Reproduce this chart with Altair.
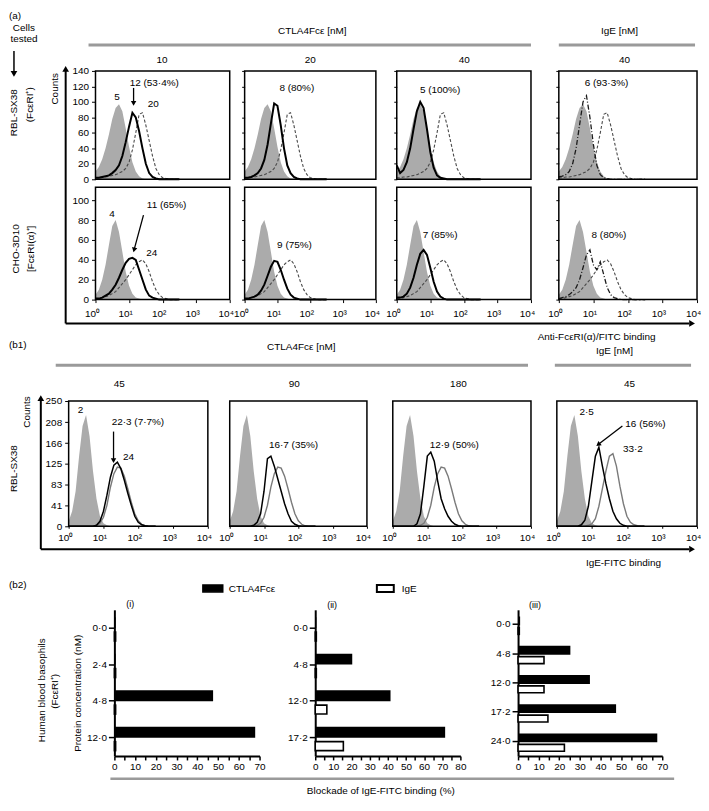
import altair as alt
import pandas as pd

FONT = "Liberation Sans"
GRAY_FILL = "#ababab"
HEADER_GRAY = "#9a9a9a"
ONE = pd.DataFrame({"k": [0]})
X0 = 8          # page x of the chart's left edge
ROW_W = 692     # width of every row chart

# ---------------- data ----------------
LOGX = [0.0, 0.1, 0.2, 0.3, 0.4, 0.5, 0.6, 0.7, 0.8, 0.9, 1.0, 1.1, 1.2,
        1.3, 1.4, 1.5, 1.6, 1.7, 1.8, 1.9, 2.0, 2.1, 2.2, 2.3, 2.4, 2.5]
X_TICKS = [0, 1, 2, 3, 4]
LBL = "'10' + ['⁰','¹','²','³','⁴'][datum.value]"

# (a) RBL-SX38 row (anti-FceRI(a)/FITC), counts
A1_GRAY = [10, 16, 26, 40, 58, 78, 92, 97, 88, 66, 42, 22, 10, 4, 1, 0, 0, 0, 0, 0, 0, 0, 0, 0, 0, 0]
A1_REF = [2, 2, 3, 3, 4, 5, 6, 8, 10, 14, 22, 38, 60, 84, 86, 70, 50, 30, 14, 6, 2, 1, 0, 0, 0, 0]
A1_T10 = [2, 2, 3, 4, 5, 8, 12, 18, 30, 48, 68, 86, 80, 62, 40, 20, 8, 3, 1, 0, 0, 0, 0, 0, 0, 0]
A1_T20 = [2, 2, 3, 5, 8, 14, 25, 45, 72, 98, 95, 70, 40, 18, 8, 3, 1, 0, 0, 0, 0, 0, 0, 0, 0, 0]
A1_T40 = [18, 8, 12, 22, 40, 65, 88, 100, 92, 65, 35, 15, 5, 2, 1, 0, 0, 0, 0, 0, 0, 0, 0, 0, 0, 0]
A1_IGE = [3, 4, 6, 10, 20, 40, 70, 100, 108, 80, 45, 18, 6, 2, 1, 0, 0, 0, 0, 0, 0, 0, 0, 0, 0, 0]
# (a) CHO-3D10 row
A2_GRAY = [5, 10, 20, 35, 55, 74, 80, 68, 48, 28, 14, 6, 2, 1, 0, 0, 0, 0, 0, 0, 0, 0, 0, 0, 0, 0]
A2_REF = [1, 1, 2, 3, 4, 6, 8, 12, 16, 20, 25, 30, 35, 38, 40, 36, 28, 18, 10, 5, 2, 1, 0, 0, 0, 0]
A2_T10 = [1, 1, 2, 4, 6, 10, 15, 22, 30, 37, 41, 42, 40, 30, 20, 10, 4, 2, 1, 0, 0, 0, 0, 0, 0, 0]
A2_T20 = [1, 1, 2, 3, 5, 9, 15, 24, 33, 39, 38, 30, 20, 11, 5, 2, 1, 0, 0, 0, 0, 0, 0, 0, 0, 0]
A2_T40 = [2, 2, 3, 6, 12, 22, 35, 46, 50, 45, 32, 18, 8, 3, 1, 0, 0, 0, 0, 0, 0, 0, 0, 0, 0, 0]
A2_IGE = [1, 2, 3, 5, 8, 12, 20, 32, 45, 50, 35, 30, 38, 25, 12, 5, 2, 1, 0, 0, 0, 0, 0, 0, 0, 0]
# (b1) RBL-SX38, IgE-FITC binding
B1_GRAY = [10, 30, 70, 140, 200, 222, 180, 110, 55, 20, 6, 2, 0, 0, 0, 0, 0, 0, 0, 0, 0, 0, 0, 0, 0, 0]
B1_REF = [0, 0, 0, 0, 0, 0, 0, 0, 2, 6, 18, 42, 78, 105, 118, 116, 100, 75, 48, 25, 11, 4, 1, 0, 0, 0]
B1_T45 = [0, 0, 0, 0, 0, 0, 0, 0, 2, 10, 30, 62, 98, 122, 128, 115, 92, 66, 42, 20, 8, 3, 1, 0, 0, 0]
B1_T90 = [0, 0, 0, 0, 0, 0, 0, 2, 8, 25, 70, 135, 140, 120, 95, 70, 45, 25, 10, 4, 1, 0, 0, 0, 0, 0]
B1_T180 = [0, 0, 0, 0, 0, 0, 0, 5, 25, 80, 140, 148, 130, 90, 55, 35, 20, 10, 4, 1, 0, 0, 0, 0, 0, 0]
B1_IGE = [0, 0, 0, 0, 0, 0, 0, 3, 12, 40, 90, 140, 158, 120, 85, 55, 30, 15, 6, 2, 0, 0, 0, 0, 0, 0]
B1_REF_IGE = [0, 0, 0, 0, 0, 0, 0, 0, 0, 2, 5, 15, 40, 75, 110, 140, 145, 120, 80, 45, 20, 8, 3, 1, 0, 0]

Y_TICKS_A1 = [0, 20, 40, 60, 80, 100, 120, 140]
Y_TICKS_A2 = [0, 20, 40, 60, 80, 100]
Y_TICKS_B1 = [0, 41, 83, 125, 166, 208, 250]
A_COLS = ["10", "20", "40", "40"]
B1_COLS = ["45", "90", "180", "45"]

# (b2) blockade of IgE-FITC binding (%)
CATS_I = ["0·0", "2·4", "4·8", "12·0"]
CTLA_I = [0.6, 0.6, 47.6, 67.9]
IGE_I = [0.6, 0.6, 0.6, 0.6]
CATS_II = ["0·0", "4·8", "12·0", "17·2"]
CTLA_II = [0.6, 20.4, 41.5, 71.6]
IGE_II = [0.6, 0.6, 6.4, 15.5]
CATS_III = ["0·0", "4·8", "12·0", "17·2", "24·0"]
CTLA_III = [1.0, 25.4, 34.9, 47.6, 67.6]
IGE_III = [0.6, 12.6, 12.6, 14.5, 22.5]
X_TICKS_70 = [0, 5, 10, 15, 20, 25, 30, 35, 40, 45, 50, 55, 60, 65, 70]
X_TICKS_80 = [0, 5, 10, 15, 20, 25, 30, 35, 40, 45, 50, 55, 60, 65, 70, 75, 80]

# ---------------- styles ----------------
REF_A = dict(color="#4a4a4a", strokeWidth=1.1, strokeDash=[3, 2])
TEST_A = dict(color="black", strokeWidth=2)
IGE_A = dict(color="#1a1a1a", strokeWidth=1.3, strokeDash=[5, 2, 1, 2])
REF_B = dict(color="#7a7a7a", strokeWidth=1.4)
TEST_B = dict(color="black", strokeWidth=1.5)


def hist_panel(L, R, ydom, yticks, gray, ref, test, ref_style, test_style,
               ylab=False, yaxis=True, xlab=False, xtick=3, xpad=6, texts=(), arrows=()):
    df = pd.DataFrame({"lx": LOGX, "g": gray, "r": ref, "t": test})
    xs = alt.Scale(domain=[0, 4], nice=False, zero=False, range=[L - X0, R - X0])
    ys = alt.Scale(domain=ydom, nice=False, zero=True)
    if xlab:
        xax = alt.Axis(orient="bottom", values=X_TICKS, labelExpr=LBL, title=None, grid=False,
                       domain=False, tickSize=xtick, labelPadding=xpad, labelFontSize=10,
                       labelOffset=-4, labelFlush=False, labelFont=FONT,
                       labelColor="black", tickColor="black")
    else:
        xax = None
    if ylab:
        yax = alt.Axis(orient="left", offset=-(L - X0), values=yticks, title=None, grid=False,
                       domain=False, tickSize=4, labelPadding=3, labelFontSize=10,
                       labelFont=FONT, labelColor="black", tickColor="black")
    elif yaxis:
        yax = alt.Axis(orient="left", offset=-(L - X0), values=yticks, title=None, grid=False,
                       domain=False, tickSize=3, labels=False, tickColor="black")
    else:
        yax = None

    def X(f):
        return alt.X(f, scale=xs, axis=xax)

    def Y(f):
        return alt.Y(f, scale=ys, axis=yax)

    base = alt.Chart(df)
    layers = [
        base.mark_area(color=GRAY_FILL, opacity=1).encode(x=X("lx:Q"), y=Y("g:Q")),
        base.mark_line(**ref_style).encode(x=X("lx:Q"), y=Y("r:Q")),
        base.mark_line(**test_style).encode(x=X("lx:Q"), y=Y("t:Q")),
    ]
    if texts:
        tdf = pd.DataFrame(list(texts), columns=["txt", "lx", "c"])
        layers.append(alt.Chart(tdf).mark_text(fontSize=10, font=FONT, color="black").encode(
            x=X("lx:Q"), y=Y("c:Q"), text="txt:N"))
    for (x1, y1, x2, y2, ang) in arrows:
        adf = pd.DataFrame({"x1": [x1], "y1": [y1], "x2": [x2], "y2": [y2]})
        layers.append(alt.Chart(adf).mark_rule(color="black", strokeWidth=1.3).encode(
            x=X("x1:Q"), y=Y("y1:Q"), x2="x2:Q", y2="y2:Q"))
        layers.append(alt.Chart(adf).mark_point(shape="triangle-up", filled=True, size=30,
                                                color="black", opacity=1, angle=ang).encode(
            x=X("x2:Q"), y=Y("y2:Q")))
    # frame of the panel = its scale domain
    fdf = pd.DataFrame({"fx1": [0], "fx2": [4], "fy1": [ydom[0]], "fy2": [ydom[1]]})
    layers.append(alt.Chart(fdf).mark_rect(fillOpacity=0, stroke="black", strokeWidth=1.5).encode(
        x=X("fx1:Q"), x2="fx2:Q", y=Y("fy1:Q"), y2="fy2:Q"))
    return alt.layer(*layers)


def bar_panel(L, R, cats, ctla, ige, xmax, xticks, big=True):
    df = pd.DataFrame({"cat": cats, "a": ctla, "b": ige})
    xs = alt.Scale(domain=[0, xmax], nice=False, range=[L - X0, R - X0])
    ys = alt.Scale(domain=cats, paddingInner=0, paddingOuter=0)
    xax = alt.Axis(orient="bottom", values=xticks,
                   labelExpr="datum.value % 10 == 0 ? datum.label : ''",
                   title=None, grid=False, tickSize=4, domainWidth=2, labelFontSize=10,
                   labelPadding=2, labelFlush=False, domainColor="black", tickColor="black",
                   tickWidth=1.5, labelFont=FONT, labelColor="black")
    yax = alt.Axis(orient="left", offset=-(L - X0), title=None, tickSize=6, domainWidth=2,
                   labelFontSize=10, labelPadding=2, domainColor="black", tickColor="black",
                   tickWidth=1.5, labelFont=FONT, labelColor="black")
    hb, ob, hw, ow = (11, -5.5, 9, 8.5) if big else (9, -3.5, 7, 6.5)
    black = alt.Chart(df).mark_bar(color="black", height=hb, yOffset=ob).encode(
        x=alt.X("a:Q", scale=xs, axis=xax), y=alt.Y("cat:N", sort=cats, scale=ys, axis=yax))
    white = alt.Chart(df).mark_bar(fill="white", stroke="black", strokeWidth=1.6,
                                   height=hw, yOffset=ow).encode(
        x=alt.X("b:Q", scale=xs, axis=xax), y=alt.Y("cat:N", sort=cats, scale=ys, axis=yax))
    return alt.layer(black, white)


class Deco:
    def __init__(self, oy):
        self.ox, self.oy = X0, oy
        self.items = []

    def text(self, s, X, Y, size=10, align="center", angle=0):
        self.items.append(alt.Chart(ONE).mark_text(
            text=s, align=align, baseline="middle", angle=angle, fontSize=size,
            font=FONT, color="black").encode(x=alt.value(X - self.ox), y=alt.value(Y - self.oy)))

    def hline(self, X1, X2, Y, color="black", width=2):
        self.items.append(alt.Chart(ONE).mark_rule(color=color, strokeWidth=width).encode(
            x=alt.value(X1 - self.ox), x2=alt.value(X2 - self.ox), y=alt.value(Y - self.oy)))

    def vline(self, X, Y1, Y2, color="black", width=2):
        self.items.append(alt.Chart(ONE).mark_rule(color=color, strokeWidth=width).encode(
            x=alt.value(X - self.ox), y=alt.value(Y1 - self.oy), y2=alt.value(Y2 - self.oy)))

    def tri(self, X, Y, angle, size=45):
        self.items.append(alt.Chart(ONE).mark_point(
            shape="triangle-up", filled=True, size=size, color="black", opacity=1,
            angle=angle).encode(x=alt.value(X - self.ox), y=alt.value(Y - self.oy)))

    def rect(self, X1, X2, Y1, Y2, fill, sw=1.5):
        self.items.append(alt.Chart(ONE).mark_rect(fill=fill, stroke="black", strokeWidth=sw).encode(
            x=alt.value(X1 - self.ox), x2=alt.value(X2 - self.ox),
            y=alt.value(Y1 - self.oy), y2=alt.value(Y2 - self.oy)))


def row_chart(h, panels, deco=None):
    items = list(panels) + (deco.items if deco is not None else [])
    return alt.layer(*items).resolve_scale(x="independent", y="independent").properties(
        width=ROW_W, height=h)


def gap(h):
    return alt.Chart(ONE).mark_point(opacity=0, size=1).encode(
        x=alt.value(0.5), y=alt.value(h / 2)).properties(width=1, height=h)


# ---------------- row tops (page px) ----------------
TA1, TA2, TB1, TB2 = 68, 185, 400, 610
HA1, HA2, HB1, HB2 = 109, 113, 126, 147

# ---------------- decorations ----------------
A = Deco(TA1)
A.text("(a)", 8, 12.5, align="left")
A.text("Cells", 23, 24.5)
A.text("tested", 23, 36)
A.vline(13, 48, 69, width=1.5)
A.tri(13, 71, 180)
A.text("RBL-SX38", 13, 110, angle=270)
A.text("(FcεRI⁺)", 29, 102, angle=270)
A.text("CHO-3D10", 15, 247, angle=270)
A.text("[FcεRI(α)⁺]", 30, 247, angle=270)
A.text("Counts", 54, 86, angle=270)
A.vline(65, 322, 68)
A.tri(65, 66, 0)
A.hline(65, 692, 322)
A.tri(695, 322, 90)
A.text("Anti-FcεRI(α)/FITC binding", 599, 336)
A.text("CTLA4Fcε [nM]", 313, 28)
A.hline(88, 533, 42, HEADER_GRAY, 3)
A.text("IgE [nM]", 622, 28)
A.hline(561, 698, 42, HEADER_GRAY, 3)
for lbl, xc in zip(A_COLS, [162, 311, 466, 627]):
    A.text(lbl, xc, 57)

B = Deco(TB1)
B.text("(b1)", 8, 344, align="left")
B.text("CTLA4Fcε [nM]", 302, 346)
B.hline(55, 530, 364, HEADER_GRAY, 3)
B.text("IgE [nM]", 617, 350)
B.hline(557, 694, 364, HEADER_GRAY, 3)
for lbl, xc in zip(B1_COLS, [119, 295, 460, 632]):
    B.text(lbl, xc, 383)
B.text("Counts", 26, 411, angle=270)
B.vline(40, 549, 400)
B.tri(40, 397, 0)
B.text("RBL-SX38", 13, 468, angle=270)
B.hline(40, 692, 549)
B.tri(695, 549, 90)
B.text("IgE-FITC binding", 626, 563)

C = Deco(TB2)
C.text("(b2)", 8, 585, align="left")
C.rect(203, 223, 585, 592, "black")
C.text("CTLA4Fcε", 229, 589, align="left")
C.rect(378, 395, 585, 592, "white", sw=2)
C.text("IgE", 403, 589, align="left")
C.text("(i)", 130, 604, size=9)
C.text("(ii)", 333, 605, size=9)
C.text("(iii)", 537, 605, size=9)
C.text("Protein concentration (nM)", 77, 694, angle=270)
C.text("Human blood basophils", 41, 691, angle=270)
C.text("(FcεRI⁺)", 54, 692, angle=270)
C.hline(110, 677, 780, HEADER_GRAY, 2.5)
C.text("Blockade of IgE-FITC binding (%)", 382, 792)

# ---------------- rows ----------------
rowA1 = row_chart(HA1, [
    hist_panel(95, 230, [0, 140], Y_TICKS_A1, A1_GRAY, A1_REF, A1_T10, REF_A, TEST_A, ylab=True,
               texts=[("12 (53·4%)", 1.75, 125), ("5", 0.64, 106), ("20", 1.72, 97)],
               arrows=[(1.135, 118, 1.135, 98, 180)]),
    hist_panel(245, 377, [0, 140], Y_TICKS_A1, A1_GRAY, A1_REF, A1_T20, REF_A, TEST_A,
               texts=[("8 (80%)", 1.59, 118)]),
    hist_panel(398, 533, [0, 140], Y_TICKS_A1, A1_GRAY, A1_REF, A1_T40, REF_A, TEST_A,
               texts=[("5 (100%)", 1.29, 115)]),
    hist_panel(561, 700, [0, 140], Y_TICKS_A1, A1_GRAY, A1_REF, A1_IGE, REF_A, IGE_A,
               texts=[("6 (93·3%)", 1.38, 124.6)]),
], A)

rowA2 = row_chart(HA2, [
    hist_panel(95, 230, [0, 113], Y_TICKS_A2, A2_GRAY, A2_REF, A2_T10, REF_A, TEST_A, ylab=True,
               xlab=True, texts=[("4", 0.49, 86), ("11 (65%)", 2.12, 95), ("24", 1.68, 47)],
               arrows=[(1.43, 85, 1.15, 50, 195)]),
    hist_panel(245, 377, [0, 113], Y_TICKS_A2, A2_GRAY, A2_REF, A2_T20, REF_A, TEST_A, xlab=True,
               texts=[("9 (75%)", 1.52, 55)]),
    hist_panel(398, 533, [0, 113], Y_TICKS_A2, A2_GRAY, A2_REF, A2_T40, REF_A, TEST_A, xlab=True,
               texts=[("7 (85%)", 1.29, 65)]),
    hist_panel(561, 700, [0, 113], Y_TICKS_A2, A2_GRAY, A2_REF, A2_IGE, REF_A, IGE_A, xlab=True,
               texts=[("8 (80%)", 1.45, 65)]),
])

rowB1 = row_chart(HB1, [
    hist_panel(68, 208, [0, 250], Y_TICKS_B1, B1_GRAY, B1_REF, B1_T45, REF_B, TEST_B, ylab=True,
               xlab=True, xtick=2, xpad=4,
               texts=[("2", 0.34, 233), ("22·3 (7·7%)", 1.99, 208), ("24", 1.72, 139)],
               arrows=[(1.29, 189, 1.29, 131, 180)]),
    hist_panel(230, 368, [0, 250], Y_TICKS_B1, B1_GRAY, B1_REF, B1_T90, REF_B, TEST_B,
               yaxis=False, xlab=True, xtick=2, xpad=4, texts=[("16·7 (35%)", 1.86, 163)]),
    hist_panel(394, 533, [0, 250], Y_TICKS_B1, B1_GRAY, B1_REF, B1_T180, REF_B, TEST_B,
               yaxis=False, xlab=True, xtick=2, xpad=4, texts=[("12·9 (50%)", 1.78, 163)]),
    hist_panel(559, 700, [0, 250], Y_TICKS_B1, B1_GRAY, B1_REF_IGE, B1_IGE, REF_B, TEST_B,
               yaxis=False, xlab=True, xtick=2, xpad=4,
               texts=[("2·5", 0.85, 228), ("16 (56%)", 2.53, 205), ("33·2", 2.17, 155)],
               arrows=[(1.87, 200, 1.18, 163, 233)]),
], B)

rowB2 = row_chart(HB2, [
    bar_panel(114, 260, CATS_I, CTLA_I, IGE_I, 70, X_TICKS_70),
    bar_panel(316, 462, CATS_II, CTLA_II, IGE_II, 80, X_TICKS_80),
    bar_panel(520, 665, CATS_III, CTLA_III, IGE_III, 70, X_TICKS_70, big=False),
], C)

chart = alt.vconcat(
    rowA1, gap(TA2 - TA1 - HA1), rowA2, gap(TB1 - TA2 - HA2), rowB1, gap(TB2 - TB1 - HB1), rowB2,
    spacing=0, bounds="flush",
).properties(padding=0, background="white").configure_view(stroke=None)

chart.save("out.html", embed_options={"renderer": "svg", "actions": False})
